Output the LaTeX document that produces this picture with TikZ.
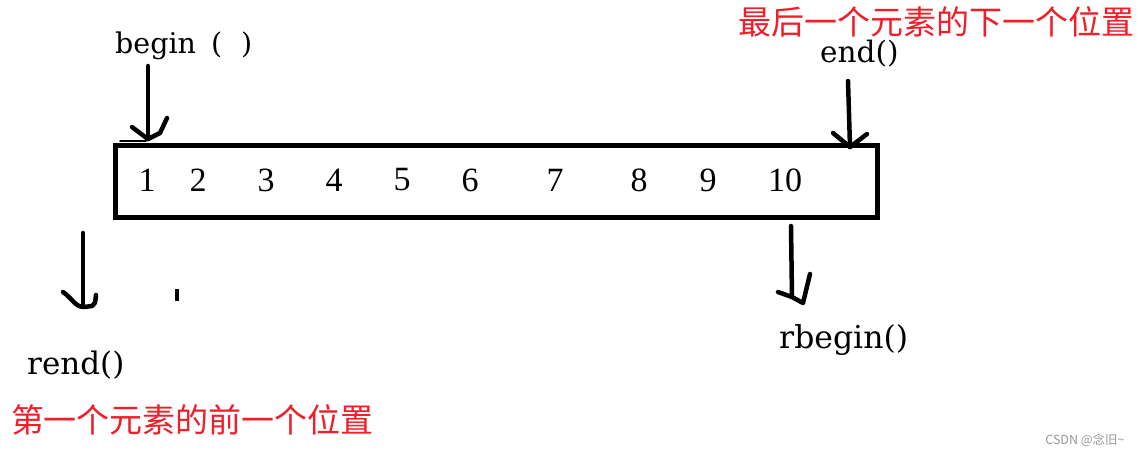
\documentclass[tikz,border=0pt]{standalone}
\usepackage{fontspec}
\setmainfont{DejaVu Serif}
\newfontfamily\digitfont{Liberation Serif}
\newfontfamily\cjk{Noto Sans CJK SC}
\definecolor{notered}{RGB}{240,30,40}
\definecolor{wmgray}{RGB}{150,150,150}
\begin{document}
\begin{tikzpicture}[x=1pt,y=-1pt,
  lbl/.style={font=\fontsize{28.5}{30}\selectfont, inner sep=0pt, anchor=base west},
  num/.style={font=\digitfont\fontsize{34}{36}\selectfont, inner sep=0pt},
  note/.style={text=notered, font=\cjk\fontsize{33}{36}\selectfont, inner sep=0pt},
  pen/.style={line width=4.5pt, line cap=round, line join=round},
  thinpen/.style={line width=1.5pt, line cap=round}]
\useasboundingbox (0,0) rectangle (1141,456);
% array box
\node[draw, line width=5pt, minimum width=762pt, minimum height=72pt, inner sep=0pt] (box) at (496.5,181.5) {};
% elements
\node[num] (n1) at (147,180) {1};
\node[num] (n2) at (198,180) {2};
\node[num] (n3) at (266,180) {3};
\node[num] (n4) at (334,180) {4};
\node[num] (n5) at (402,180) {5};
\node[num] (n6) at (470,180) {6};
\node[num] (n7) at (555,180) {7};
\node[num] (n8) at (639,180) {8};
\node[num] (n9) at (708,180) {9};
\node[num] (n10) at (785,180) {10};
% labels
\node[lbl] (lbegin) at (115,53) {begin\hspace{15pt}(\hspace{19pt})};
\node[lbl, font=\fontsize{29.5}{31}\selectfont] (lend) at (820,62) {end()};
\node[lbl, font=\fontsize{31}{33}\selectfont] (lrend) at (27,374) {rend()};
\node[lbl, font=\fontsize{31.5}{33}\selectfont] (lrbegin) at (779,348) {rbegin()};
% notes
\node[note] (topnote) at (936.5,22) {最后一个元素的下一个位置};
\node[note] (botnote) at (192.5,420) {第一个元素的前一个位置};
% watermark
\node[text=wmgray, font=\cjk\fontsize{12.5}{14}\selectfont, inner sep=0pt] (wm) at (1085,440) {CSDN @念旧\textasciitilde};
% arrow end points
\coordinate (bS) at (148,66);  \coordinate (bE) at (148,139);
\coordinate (eS) at (848,81);  \coordinate (eE) at (850,147);
\coordinate (rS) at (83,233);  \coordinate (rE) at (83,305);
\coordinate (rbS) at (791,226); \coordinate (rbE) at (792,297);
% begin() arrow
\draw[pen] (bS) -- (bE);
\draw[pen] (132,127) -- (bE);
\draw[pen] (167,118) -- (160,133) -- (bE);
\draw[thinpen] (120,141) -- (146,141);
% end() arrow
\draw[pen] (eS) -- (eE);
\draw[pen] (833,133) -- (eE);
\draw[pen] (867,134) -- (eE);
% rend() arrow
\draw[pen] (rS) -- (rE);
\draw[pen] (63,292) .. controls (72,298) and (75,307) .. (84,307) -- (92,306) .. controls (95,304) .. (96,295);
% stray tick
\draw[line width=4pt] (177,289) -- (177,301);
% rbegin() arrow
\draw[pen] (rbS) -- (rbE);
\draw[pen] (778,292) -- (rbE) -- (803,303) -- (810,274);
\end{tikzpicture}
\end{document}
